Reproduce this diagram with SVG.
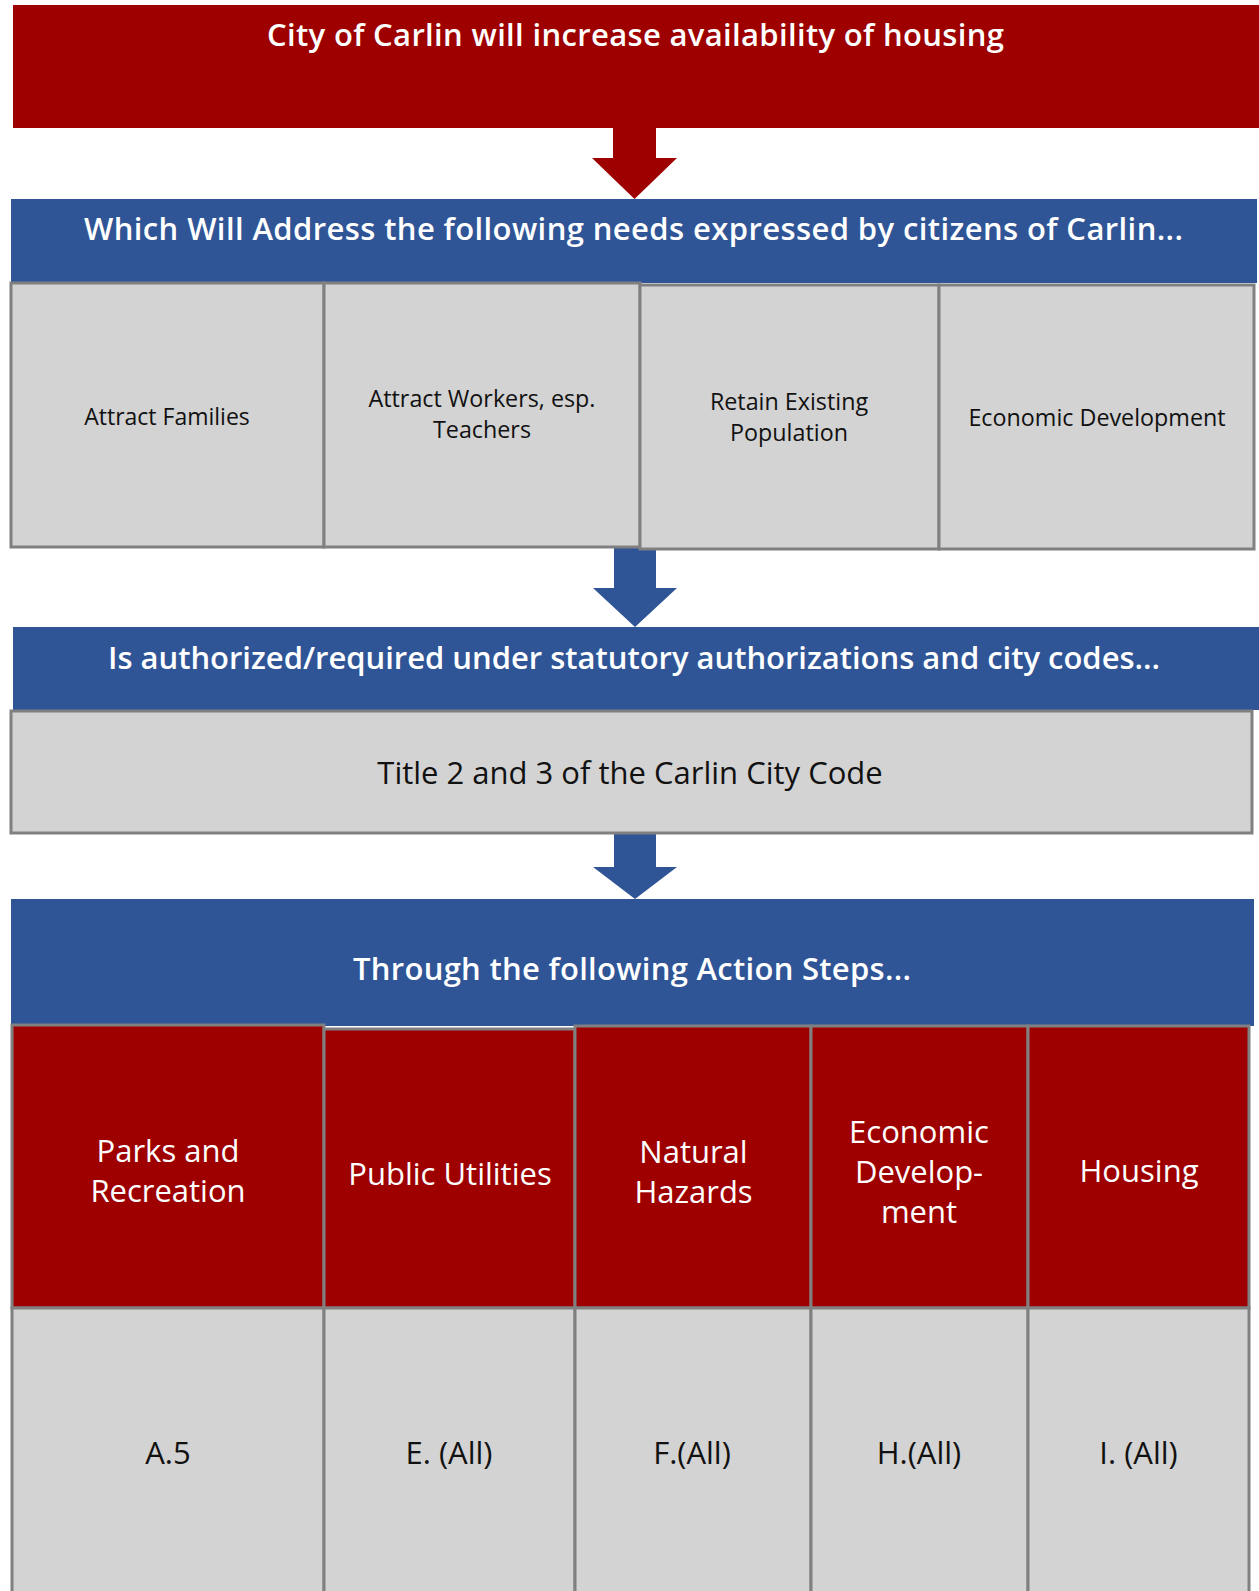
<svg xmlns="http://www.w3.org/2000/svg" width="1259" height="1591" viewBox="0 0 1259 1591">
<style>
.red{fill:#9e0000}
.blue{fill:#2f5597}
.gbox{fill:#d3d3d3;stroke:#808080;stroke-width:3}
.rbox{fill:#9e0000;stroke:#808080;stroke-width:3}
.hdr{font-family:"Open Sans","Noto Sans",sans-serif;font-weight:600;fill:#fff;text-anchor:middle;font-size:31px}
.t{font-family:"Open Sans","Noto Sans",sans-serif;fill:#111;text-anchor:middle}
.w{font-family:"Open Sans","Noto Sans",sans-serif;fill:#fff;text-anchor:middle;font-size:31px}
</style>
<rect width="1259" height="1591" fill="#fff"/>
<g id="goal">
<rect class="red" x="13" y="5" width="1246" height="123"/>
<text class="hdr" x="635.5" y="46" textLength="737">City of Carlin will increase availability of housing</text>
</g>
<g id="connectors">
<polygon class="red" points="613,127 656,127 656,158 677,158 634.5,199 592,158 613,158"/>
<polygon class="blue" points="614,548 656,548 656,588 677,588 635,627 593,588 614,588"/>
<polygon class="blue" points="614,832 656,832 656,867 677,867 635,899 593,867 614,867"/>
</g>
<g id="needs-header">
<rect class="blue" x="11" y="199" width="1246" height="84"/>
<text class="hdr" x="633.5" y="240" textLength="1099">Which Will Address the following needs expressed by citizens of Carlin...</text>
</g>
<g id="need-families">
<rect class="gbox" x="11" y="283" width="313" height="264"/>
<text class="t" x="167" y="425" font-size="23">Attract Families</text>
</g>
<g id="need-workers">
<rect class="gbox" x="324" y="283" width="316" height="264"/>
<text class="t" x="482" y="407" font-size="23.3">Attract Workers, esp.</text>
<text class="t" x="482" y="438" font-size="23.3">Teachers</text>
</g>
<g id="need-retain">
<rect class="gbox" x="640" y="285" width="299" height="264"/>
<text class="t" x="789" y="410" font-size="23.3">Retain Existing</text>
<text class="t" x="789" y="441" font-size="23.3">Population</text>
</g>
<g id="need-econ">
<rect class="gbox" x="939" y="285" width="315" height="264"/>
<text class="t" x="1097" y="426" font-size="23.3">Economic Development</text>
</g>
<g id="auth-header">
<rect class="blue" x="13" y="627" width="1246" height="83"/>
<text class="hdr" x="634" y="669" textLength="1052">Is authorized/required under statutory authorizations and city codes...</text>
</g>
<g id="city-code">
<rect class="gbox" x="11" y="711" width="1241" height="122"/>
<text class="t" x="630" y="784" font-size="31">Title 2 and 3 of the Carlin City Code</text>
</g>
<g id="steps-header">
<rect class="blue" x="11" y="899" width="1243" height="127"/>
<text class="hdr" x="632" y="980" textLength="558">Through the following Action Steps...</text>
</g>
<g id="step-parks">
<rect class="rbox" x="12" y="1025" width="312" height="283"/>
<text class="w" x="168" y="1162">Parks and</text>
<text class="w" x="168" y="1202">Recreation</text>
<rect class="gbox" x="12" y="1308" width="312" height="300"/>
<text class="t" x="168" y="1464" font-size="31">A.5</text>
</g>
<g id="step-utilities">
<rect class="rbox" x="324" y="1029" width="251" height="279"/>
<text class="w" x="450" y="1185">Public Utilities</text>
<rect class="gbox" x="324" y="1308" width="251" height="300"/>
<text class="t" x="449" y="1464" font-size="31">E. (All)</text>
</g>
<g id="step-hazards">
<rect class="rbox" x="575" y="1026" width="236" height="282"/>
<text class="w" x="693.5" y="1163">Natural</text>
<text class="w" x="693.5" y="1203">Hazards</text>
<rect class="gbox" x="575" y="1308" width="236" height="300"/>
<text class="t" x="692" y="1464" font-size="31">F.(All)</text>
</g>
<g id="step-econ">
<rect class="rbox" x="811" y="1026" width="217" height="282"/>
<text class="w" x="919" y="1143">Economic</text>
<text class="w" x="919" y="1183">Develop-</text>
<text class="w" x="919" y="1223">ment</text>
<rect class="gbox" x="811" y="1308" width="217" height="300"/>
<text class="t" x="919" y="1464" font-size="31">H.(All)</text>
</g>
<g id="step-housing">
<rect class="rbox" x="1028" y="1026" width="221" height="282"/>
<text class="w" x="1139" y="1182">Housing</text>
<rect class="gbox" x="1028" y="1308" width="221" height="300"/>
<text class="t" x="1138.5" y="1464" font-size="31">I. (All)</text>
</g>
</svg>
